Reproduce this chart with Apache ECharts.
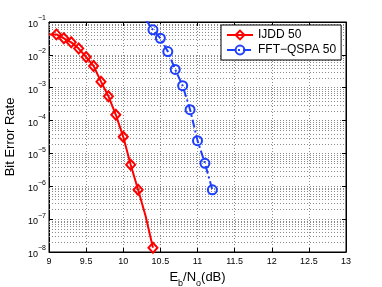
<!DOCTYPE html>
<html>
<head>
<meta charset="utf-8">
<script src="https://cdn.jsdelivr.net/npm/echarts@6/dist/echarts.min.js"></script>
<style>
html,body{margin:0;padding:0;background:#fff;}
#chart{width:382px;height:287px;}
</style>
</head>
<body>
<div id="chart"></div>
<script>
// Data
const ijddX = [9.0, 9.1, 9.2, 9.3, 9.4, 9.5, 9.6, 9.7, 9.8, 9.9, 10.0, 10.1, 10.2, 10.3, 10.4];
const ijddY = [0.042, 0.042, 0.032, 0.024, 0.0155, 0.0086, 0.0046, 0.00153, 5.5e-4, 1.5e-4, 3.2e-5, 4.5e-6, 7.8e-7, 1.26e-7, 1.35e-8];
const fftX = [10.3, 10.4, 10.5, 10.6, 10.7, 10.8, 10.9, 11.0, 11.1, 11.2];
const fftY = [0.12, 0.058, 0.032, 0.0126, 0.0036, 0.00115, 2.15e-4, 2.45e-5, 5e-6, 7.8e-7];
const hiddenMarkerX = [9.0, 10.3]; // points whose markers lie outside the axes box
const xTicks = [9, 9.5, 10, 10.5, 11, 11.5, 12, 12.5, 13];
const yDecades = [-8, -7, -6, -5, -4, -3, -2, -1];
const minorMultipliers = [2, 3, 4, 5, 6, 7, 8, 9];
const seriesNames = ['IJDD 50', 'FFT\u2212QSPA 50'];

const FONT = 'Liberation Sans';
const GRID_COLOR = '#8a8a8a';
const DOT = [1, 2];

function toPoints(xs, ys) {
  return xs.map((x, i) => {
    const p = { value: [x, ys[i]] };
    if (hiddenMarkerX.indexOf(x) >= 0) p.symbol = 'none';
    return p;
  });
}

// minor log grid positions (2..9 x 10^k)
const minorLevels = [];
for (let k = yDecades[0]; k < yDecades[yDecades.length - 1]; k++) {
  minorMultipliers.forEach(m => minorLevels.push([xTicks[0], m * Math.pow(10, k)]));
}

const chart = echarts.init(document.getElementById('chart'), null, { renderer: 'canvas' });
const yMin = Math.pow(10, yDecades[0]);
const yMax = Math.pow(10, yDecades[yDecades.length - 1]);
const xMin = xTicks[0], xMax = xTicks[xTicks.length - 1];

const option = {
  animation: false,
  backgroundColor: '#fff',
  textStyle: { fontFamily: FONT },
  grid: { left: 49, right: 36, top: 22, bottom: 35, outerBoundsMode: 'none', containLabel: false,
          show: true, borderColor: '#000', borderWidth: 1, backgroundColor: 'transparent' },
  legend: {
    data: seriesNames,
    orient: 'vertical',
    left: 221, top: 25,
    padding: [4, 5, 4, 5],
    itemGap: 3,
    itemWidth: 26, itemHeight: 11,
    backgroundColor: '#fff',
    borderColor: '#000', borderWidth: 1, borderRadius: 0,
    textStyle: { fontFamily: FONT, fontSize: 12, color: '#000' }
  },
  xAxis: [{
    type: 'value', min: xMin, max: xMax, interval: 0.5,
    name: '{n|E}{s|b}{n|/N}{s|o}{n|(dB)}',
    nameLocation: 'middle', nameGap: 13,
    nameTextStyle: {
      rich: {
        n: { fontFamily: FONT, fontSize: 13, color: '#000', lineHeight: 17, verticalAlign: 'top' },
        s: { fontFamily: FONT, fontSize: 9, color: '#000', lineHeight: 17, verticalAlign: 'bottom' }
      }
    },
    axisLine: { show: true, lineStyle: { color: '#000', width: 1 } },
    axisTick: { show: true, inside: true, length: 4, lineStyle: { color: '#000' } },
    axisLabel: { fontFamily: FONT, fontSize: 9, color: '#000', margin: 5, formatter: v => String(v) },
    splitLine: { show: true, lineStyle: { color: GRID_COLOR, type: DOT, width: 1 } }
  }, {
    type: 'value', position: 'top', min: xMin, max: xMax, interval: 0.5,
    axisLine: { show: true, lineStyle: { color: '#000' } },
    axisTick: { show: true, inside: true, length: 4, lineStyle: { color: '#000' } },
    axisLabel: { show: false }, splitLine: { show: false }
  }],
  yAxis: [{
    type: 'log', logBase: 10, min: yMin, max: yMax, interval: 1,
    name: 'Bit Error Rate', nameLocation: 'middle', nameGap: 25,
    nameTextStyle: { fontFamily: FONT, fontSize: 13, color: '#000' },
    axisLine: { show: true, lineStyle: { color: '#000', width: 1 } },
    axisTick: { show: true, inside: true, length: 4, lineStyle: { color: '#000' } },
    axisLabel: {
      margin: 3,
      formatter: v => '{b|10}{s|' + String(Math.round(Math.log10(v))).replace('-', '\u2212') + '}',
      rich: {
        b: { fontFamily: FONT, fontSize: 9, color: '#000', lineHeight: 14, verticalAlign: 'bottom' },
        s: { fontFamily: FONT, fontSize: 7, color: '#000', lineHeight: 14, verticalAlign: 'top' }
      }
    },
    splitLine: { show: true, lineStyle: { color: GRID_COLOR, type: DOT, width: 1 } }
  }, {
    type: 'log', logBase: 10, min: yMin, max: yMax, interval: 1, position: 'right',
    axisLine: { show: true, lineStyle: { color: '#000' } },
    axisTick: { show: true, inside: true, length: 4, lineStyle: { color: '#000' } },
    axisLabel: { show: false }, splitLine: { show: false }
  }],
  series: [
    {
      name: 'minor-grid', type: 'custom', z: 1, silent: true,
      xAxisIndex: 0, yAxisIndex: 0,
      data: minorLevels,
      clip: false,
      renderItem: function (params, api) {
        const y = api.value(1);
        const p0 = api.coord([xMin, y]);
        const p1 = api.coord([xMax, y]);
        const yy = Math.round(p0[1]) + 0.5;
        return {
          type: 'line',
          shape: { x1: p0[0], y1: yy, x2: p1[0], y2: yy },
          style: { stroke: GRID_COLOR, lineWidth: 1, lineDash: DOT, fill: null }
        };
      }
    },
    {
      name: seriesNames[0], type: 'line', xAxisIndex: 0, yAxisIndex: 0, z: 3,
      data: toPoints(ijddX, ijddY),
      clip: true,
      color: '#ff0000',
      symbol: 'diamond', symbolSize: [9, 10],
      lineStyle: { color: '#ff0000', width: 2 },
      itemStyle: { color: 'rgba(255,255,255,0)', borderColor: '#ff0000', borderWidth: 2 }
    },
    {
      name: seriesNames[1], type: 'line', xAxisIndex: 0, yAxisIndex: 0, z: 3,
      data: toPoints(fftX, fftY),
      clip: true,
      color: '#1f3fff',
      symbol: 'circle', symbolSize: 9,
      lineStyle: { color: '#1f3fff', width: 2, type: [8, 3, 2, 3] },
      itemStyle: { color: 'rgba(255,255,255,0)', borderColor: '#1f3fff', borderWidth: 2 }
    }
  ]
};
chart.setOption(option);
</script>
</body>
</html>
